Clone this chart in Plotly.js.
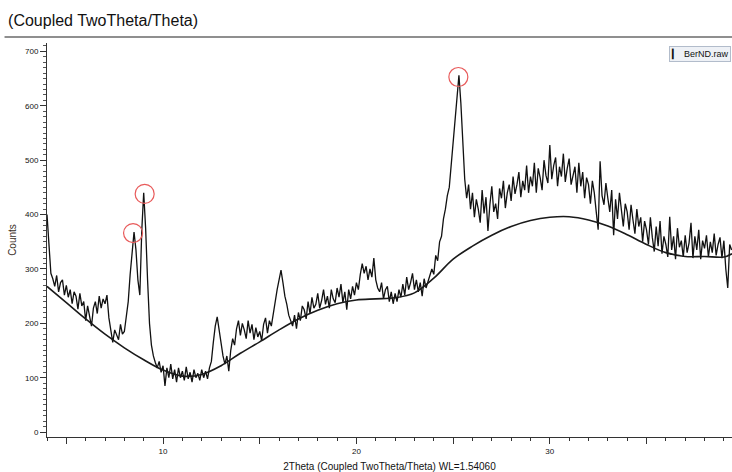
<!DOCTYPE html>
<html>
<head>
<meta charset="utf-8">
<script src="https://cdn.plot.ly/plotly-3.0.1.min.js"></script>
<style>html,body{margin:0;padding:0;background:#fff;}#chart{width:732px;height:472px;}</style>
</head>
<body>
<div id="chart"></div>
<script>
// Raw scan: first angle and step (degrees 2Theta), counts
const twoThetaStart = 4.0;
const twoThetaStep = 0.1;
const rawCounts = [
  400, 340, 292, 282, 268, 288, 258, 275, 280, 252,   // 4
  270, 248, 262, 236, 258, 250, 226, 255, 232, 240,   // 5
  205, 232, 212, 195, 228, 240, 218, 250, 228, 245,   // 6
  236, 252, 210, 188, 165, 188, 178, 170, 198, 180,   // 7
  185, 215, 240, 290, 330, 368, 335, 280, 252, 370,   // 8
  440, 375, 280, 200, 160, 140, 128, 118, 130, 110,   // 9
  122, 85, 118, 100, 125, 98, 115, 92, 118, 100,      // 10
  112, 95, 120, 98, 110, 92, 115, 100, 108, 95,       // 11
  115, 100, 112, 98, 118, 130, 165, 195, 212, 190,    // 12
  160, 140, 125, 140, 112, 150, 172, 160, 190, 205,   // 13
  178, 200, 188, 172, 205, 182, 198, 170, 192, 175,   // 14
  185, 168, 198, 210, 182, 205, 195, 220, 240, 262,   // 15
  280, 298, 275, 250, 235, 215, 205, 195, 215, 190,   // 16
  220, 205, 232, 225, 208, 240, 218, 248, 228, 235,   // 17
  255, 228, 242, 262, 235, 250, 228, 262, 245, 238,   // 18
  265, 248, 272, 238, 258, 225, 262, 245, 268, 252,   // 19
  275, 262, 290, 310, 292, 305, 280, 300, 285, 320,   // 20
  280, 265, 258, 275, 245, 262, 268, 240, 258, 236,   // 21
  255, 240, 262, 248, 272, 252, 285, 262, 275, 292,   // 22
  262, 280, 258, 275, 250, 282, 265, 278, 292, 300,   // 23
  290, 325, 315, 350, 360, 392, 410, 435, 450, 490,   // 24
  530, 580, 615, 656, 605, 540, 465, 430, 455, 410,   // 25
  440, 395, 428, 410, 385, 445, 402, 432, 370, 418,   // 26
  452, 405, 420, 392, 448, 430, 462, 412, 440, 455,   // 27
  425, 470, 438, 455, 478, 432, 462, 445, 490, 440,   // 28
  470, 452, 495, 440, 485, 468, 445, 500, 472, 458,   // 29
  528, 465, 490, 505, 452, 488, 470, 512, 460, 485,   // 30
  503, 455, 470, 488, 440, 495, 452, 478, 430, 468,   // 31
  455, 420, 462, 440, 405, 372, 498, 435, 418, 458,   // 32
  430, 405, 445, 362, 428, 392, 440, 410, 378, 420,   // 33
  405, 372, 418, 390, 365, 410, 378, 395, 350, 388,   // 34
  372, 345, 395, 358, 332, 378, 342, 388, 328, 360,   // 35
  345, 322, 396, 335, 360, 318, 375, 340, 352, 322,   // 36
  362, 330, 348, 385, 320, 360, 335, 372, 318, 352,   // 37
  338, 362, 322, 350, 330, 365, 325, 345, 358, 320,   // 38
  352, 300, 265, 345, 335                             // 39
];

// Background (amorphous hump) curve knots
const bgTwoTheta = [4, 5, 6, 7, 8, 9, 10, 11, 12, 13, 14, 15, 16, 17, 18, 19, 20, 21, 22, 23, 24, 25, 26, 27, 28, 29, 30, 31, 32, 33, 34, 35, 36, 37, 38, 39, 39.42];
const bgCounts   = [268, 238, 208, 180, 155, 133, 114, 103, 106, 122, 145, 166, 188, 208, 224, 236, 243, 245, 247, 256, 283, 318, 342, 362, 378, 389, 395, 396, 390, 379, 363, 345, 330, 323, 323, 322, 328];

// Marked peaks (red circles)
const peakTwoTheta = [8.45, 9.05, 25.27];
const peakCounts   = [366, 438, 653];

// Axis labels
const xTickVals = [5, 10, 15, 20, 25, 30, 35];
const xTickText = ['', '10', '', '20', '', '30', ''];
const legendName = 'BerND.raw';

const FONT = '"Liberation Sans", Arial, sans-serif';

const traces = [
  {
    type: 'scatter', mode: 'lines', name: legendName,
    x0: twoThetaStart, dx: twoThetaStep, y: rawCounts,
    line: {color: '#111111', width: 1.3},
    showlegend: false, hoverinfo: 'x+y'
  },
  {
    type: 'scatter', mode: 'lines', name: 'background',
    x: bgTwoTheta, y: bgCounts,
    line: {color: '#1a1a1a', width: 1.6, shape: 'spline', smoothing: 1},
    showlegend: false
  },
  {
    type: 'scatter', mode: 'markers', name: 'peaks',
    x: peakTwoTheta, y: peakCounts,
    marker: {symbol: 'circle-open', size: 19, color: '#e85a5a', line: {width: 1.2, color: '#e85a5a'}},
    showlegend: false
  }
];

const layout = {
  width: 732, height: 472,
  margin: {l: 47, r: 0, t: 43, b: 35},
  paper_bgcolor: '#ffffff', plot_bgcolor: '#ffffff',
  font: {family: FONT, size: 8, color: '#111'},
  showlegend: false,
  title: {
    text: '(Coupled TwoTheta/Theta)',
    font: {family: FONT, size: 16, color: '#111'},
    x: 0.011, xanchor: 'left', xref: 'container',
    y: 0.957, yanchor: 'middle', yref: 'container'
  },
  xaxis: {
    range: [4.0, 39.42],
    showgrid: false, zeroline: false,
    showline: true, linecolor: '#333', linewidth: 1,
    ticks: 'outside', ticklen: 6, tickwidth: 1, tickcolor: '#333',
    tickmode: 'array', tickvals: xTickVals, ticktext: xTickText,
    tickfont: {family: FONT, size: 8, color: '#111'},
    minor: {dtick: 1, tick0: 0, ticks: 'outside', ticklen: 3, tickcolor: '#333'},
    title: {text: '2Theta (Coupled TwoTheta/Theta) WL=1.54060', font: {family: FONT, size: 10, color: '#111'}, standoff: 12}
  },
  yaxis: {
    range: [-9, 715.5],
    showgrid: false, zeroline: false,
    showline: true, linecolor: '#333', linewidth: 1,
    ticks: 'outside', ticklen: 6, tickwidth: 1, tickcolor: '#333',
    dtick: 100, tick0: 0,
    tickfont: {family: FONT, size: 8, color: '#111'},
    minor: {dtick: 10, tick0: 0, ticks: 'outside', ticklen: 3, tickcolor: '#555'},
    title: {text: 'Counts', font: {family: FONT, size: 10, color: '#3a3028'}, standoff: 6}
  },
  shapes: [
    {type: 'line', xref: 'paper', yref: 'paper', x0: -0.062, x1: 1.0, y0: 1.0152, y1: 1.0152,
     line: {color: '#8f8f8f', width: 2}}
  ],
  annotations: [
    {xref: 'paper', yref: 'paper', x: 0.998, y: 0.971, xanchor: 'right', yanchor: 'middle',
     text: '\u258E  ' + legendName, showarrow: false, align: 'left',
     font: {family: FONT, size: 9, color: '#111'},
     bgcolor: '#eef1f6', bordercolor: '#b2bccb', borderwidth: 1, borderpad: 1}
  ]
};

Plotly.newPlot('chart', traces, layout, {staticPlot: true, displayModeBar: false});
</script>
</body>
</html>
